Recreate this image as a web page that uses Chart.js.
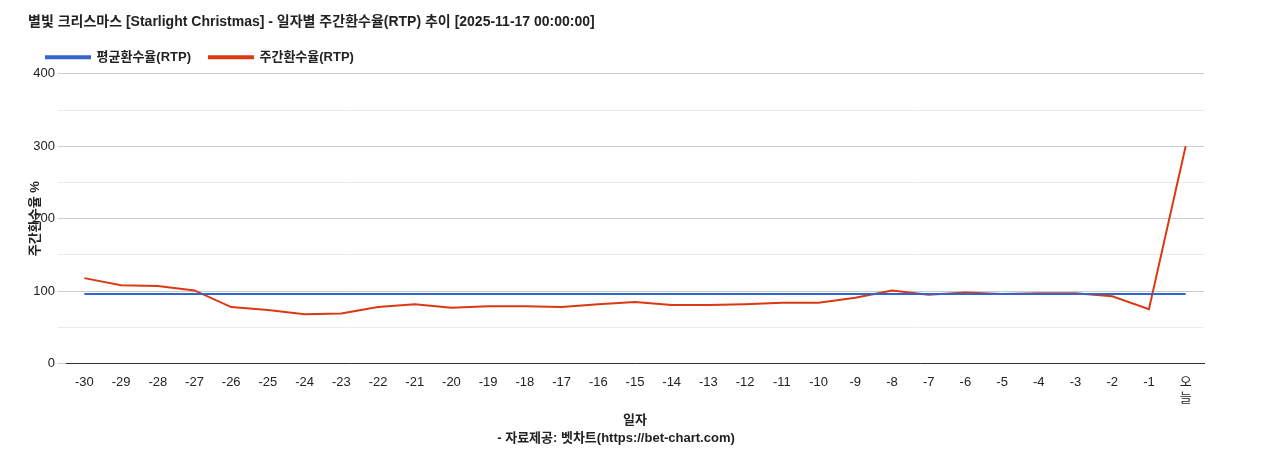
<!DOCTYPE html>
<html><head><meta charset="utf-8">
<script src="https://cdn.jsdelivr.net/npm/chart.js"></script>
<style>body{margin:0;background:#fff}#w{width:1268px;height:450px}</style>
</head><body><div id="w"><canvas id="c"></canvas></div>
<script>
const categories=['-30','-29','-28','-27','-26','-25','-24','-23','-22','-21','-20','-19','-18','-17','-16','-15','-14','-13','-12','-11','-10','-9','-8','-7','-6','-5','-4','-3','-2','-1',['오','늘']];
const weeklyRtp=[118,108,107,101,78,74,68,69,78,82,77,79,79,78,82,85,81,81,82,84,84,91,101,95,98,96,97,97,93,75,300];
const avgRtp=categories.map(()=>96);
const F="'Liberation Sans','Noto Sans CJK KR',sans-serif";
Chart.defaults.font.family=F;Chart.defaults.color='#222';
new Chart(document.getElementById('c'),{type:'line',
data:{labels:categories,datasets:[
{label:'평균환수율(RTP)',data:avgRtp,borderColor:'#3366cc',backgroundColor:'#3366cc',borderWidth:2,pointRadius:0,tension:0},
{label:'주간환수율(RTP)',data:weeklyRtp,borderColor:'#dc3912',backgroundColor:'#dc3912',borderWidth:2,pointRadius:0,tension:0}]},
options:{responsive:true,maintainAspectRatio:false,animation:false,
layout:{padding:{left:28,right:64,top:14,bottom:4}},
plugins:{title:{display:true,text:'별빛 크리스마스 [Starlight Christmas] - 일자별 주간환수율(RTP) 추이 [2025-11-17 00:00:00]',align:'start',font:{size:14,weight:'bold'},padding:{top:0,bottom:2}},
subtitle:{display:true,position:'bottom',text:'- 자료제공: 벳차트(https://bet-chart.com)',font:{size:13,weight:'bold'},padding:{top:0}},
legend:{align:'start',labels:{boxWidth:44,boxHeight:2,font:{size:13,weight:'bold'},padding:18}},tooltip:{enabled:false}},
scales:{x:{offset:true,grid:{display:false},border:{color:'#333'},ticks:{font:{size:13},maxRotation:0,autoSkip:false},title:{display:true,text:'일자',font:{size:13,weight:'bold'},padding:{top:4,bottom:2}}},
y:{min:0,max:400,afterFit:a=>{a.width=38},border:{display:false},ticks:{stepSize:50,font:{size:13},callback:v=>v%100===0?v:''},
grid:{color:c=>c.tick&&c.tick.value%100===0?'#cccccc':'#ebebeb'},title:{display:true,text:'주간환수율 %',font:{size:13,weight:'bold'},padding:0}}}}});
</script></body></html>
